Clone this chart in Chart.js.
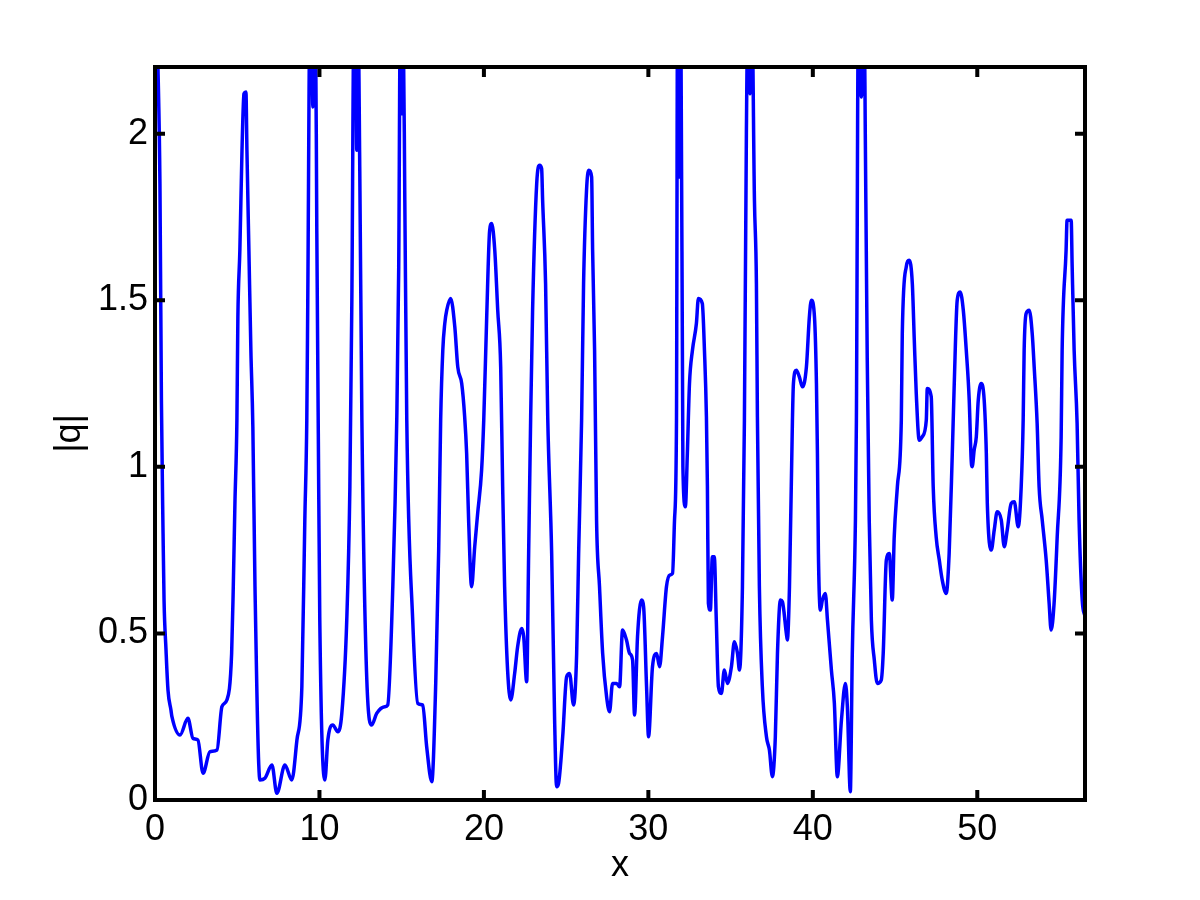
<!DOCTYPE html>
<html><head><meta charset="utf-8">
<script src="https://cdn.jsdelivr.net/npm/chart.js@4/dist/chart.umd.min.js"></script>
<style>html,body{margin:0;padding:0;background:#fff;} canvas{display:block;}</style>
</head><body>
<canvas id="c" width="1200" height="900"></canvas>
<script>
const xValues = [
0.00,0.18,0.30,0.39,0.49,0.55,0.67,0.79,0.97,1.03,1.52,2.00,2.31,2.61,2.92,3.34,3.77,4.07,4.37,4.66,
4.76,4.86,4.98,5.04,5.16,5.29,5.41,5.53,5.59,5.71,5.83,5.95,6.08,6.38,6.68,7.11,7.41,7.90,8.32,8.63,
8.93,9.11,9.23,9.29,9.42,9.54,9.60,9.66,9.75,9.84,9.93,10.02,10.33,10.51,10.81,11.12,11.36,11.66,11.85,11.97,
12.09,12.21,12.27,12.36,12.45,12.58,12.88,13.18,13.48,13.97,14.15,14.46,14.70,14.82,14.91,15.01,15.10,15.19,15.31,15.67,
15.98,16.28,16.52,16.83,17.07,17.25,17.37,17.50,17.62,17.74,17.98,18.23,18.41,18.65,18.83,18.95,19.07,19.25,19.44,19.62,
19.86,19.99,20.17,20.35,20.47,20.66,20.84,21.02,21.14,21.26,21.44,21.63,21.87,22.05,22.30,22.42,22.60,22.72,22.84,22.96,
23.21,23.39,23.51,23.57,23.75,23.88,24.12,24.30,24.42,24.54,24.79,25.03,25.21,25.45,25.64,25.76,25.94,26.06,26.24,26.37,
26.55,26.61,26.73,26.85,27.03,27.22,27.46,27.64,27.82,28.07,28.25,28.43,28.67,28.86,29.04,29.16,29.34,29.58,29.71,29.89,
30.01,30.25,30.50,30.68,30.86,31.10,31.29,31.47,31.59,31.71,31.77,31.89,31.98,32.10,32.25,32.37,32.50,32.68,32.92,33.04,
33.28,33.41,33.53,33.59,33.65,33.77,33.89,34.01,34.13,34.26,34.44,34.62,34.81,35.05,35.23,35.42,35.54,35.72,35.84,35.96,
36.05,36.18,36.30,36.45,36.57,36.63,36.75,36.93,37.18,37.36,37.54,37.72,37.85,38.03,38.15,38.39,38.45,38.58,38.76,38.82,
39.00,39.18,39.37,39.61,39.79,39.91,40.10,40.22,40.28,40.34,40.46,40.58,40.76,40.89,41.13,41.31,41.49,41.74,41.98,42.10,
42.28,42.40,42.59,42.65,42.77,42.95,43.13,43.19,43.31,43.43,43.56,43.74,43.92,44.16,44.28,44.47,44.65,44.83,44.95,45.14,
45.38,45.44,45.68,45.86,46.05,46.17,46.29,46.47,46.65,46.90,46.96,47.20,47.32,47.50,47.69,47.87,48.11,48.29,48.48,48.60,
48.78,48.96,49.15,49.33,49.51,49.63,49.69,49.81,49.94,50.06,50.24,50.42,50.55,50.61,50.85,51.03,51.21,51.46,51.64,51.82,
52.06,52.25,52.49,52.67,52.79,52.85,52.97,53.16,53.34,53.46,53.64,53.76,53.95,54.19,54.37,54.49,54.67,54.86,55.10,55.16,
55.40,55.46,55.71,55.77,55.89,56.07,56.19,56.38,56.55
];
const qValues = [
2.60,2.20,1.85,1.20,0.80,0.60,0.45,0.33,0.27,0.25,0.195,0.245,0.185,0.18,0.08,0.145,0.15,0.28,0.30,0.44,
0.64,0.89,1.14,1.45,1.65,1.95,2.12,2.125,1.95,1.65,1.35,1.12,0.64,0.06,0.065,0.105,0.02,0.105,0.06,0.18,
0.34,0.84,1.14,1.50,2.35,2.25,2.08,2.25,2.40,1.70,1.10,0.54,0.06,0.18,0.225,0.205,0.26,0.54,0.94,1.50,
2.30,2.30,1.95,2.30,1.90,1.14,0.36,0.225,0.26,0.28,0.285,0.64,1.14,1.60,2.30,2.06,2.30,1.80,1.14,0.54,
0.29,0.285,0.16,0.055,0.35,0.75,1.14,1.35,1.43,1.47,1.505,1.42,1.30,1.25,1.15,1.04,0.84,0.64,0.76,0.86,
0.99,1.14,1.45,1.71,1.73,1.65,1.47,1.30,0.94,0.64,0.39,0.30,0.38,0.46,0.515,0.49,0.355,0.74,1.14,1.47,
1.85,1.905,1.895,1.80,1.55,1.15,0.74,0.24,0.04,0.05,0.19,0.37,0.38,0.285,0.44,0.74,1.14,1.55,1.83,1.89,
1.87,1.65,1.35,0.84,0.64,0.44,0.31,0.265,0.35,0.35,0.34,0.51,0.48,0.44,0.42,0.255,0.49,0.60,0.58,0.34,
0.19,0.40,0.44,0.40,0.49,0.64,0.675,0.68,0.84,1.14,2.30,1.87,2.30,1.00,0.88,1.04,1.25,1.35,1.43,1.505,
1.49,1.35,1.15,0.94,0.59,0.57,0.73,0.73,0.54,0.34,0.32,0.39,0.35,0.40,0.475,0.44,0.39,0.64,1.14,2.00,
2.35,2.12,2.35,1.80,1.55,1.15,0.64,0.34,0.19,0.15,0.07,0.19,0.44,0.60,0.595,0.50,0.48,0.64,1.14,1.25,
1.29,1.27,1.24,1.30,1.45,1.50,1.45,1.25,1.04,0.74,0.57,0.60,0.62,0.54,0.39,0.29,0.07,0.24,0.35,0.28,
0.025,0.44,0.84,1.14,2.35,2.11,2.35,2.00,1.32,0.84,0.54,0.42,0.35,0.36,0.44,0.72,0.74,0.60,0.79,0.94,
1.14,1.40,1.60,1.62,1.55,1.38,1.22,1.08,1.09,1.14,1.235,1.21,0.94,0.79,0.72,0.66,0.62,0.74,1.04,1.25,
1.50,1.525,1.47,1.35,1.20,1.02,1.00,1.05,1.09,1.20,1.25,1.20,1.04,0.89,0.75,0.81,0.865,0.84,0.76,0.81,
0.89,0.895,0.82,0.94,1.14,1.35,1.46,1.47,1.40,1.30,1.13,0.94,0.84,0.72,0.59,0.51,0.59,0.79,1.09,1.35,
1.65,1.74,1.74,1.60,1.35,1.13,0.84,0.60,0.55
];
const xTicks = [0, 10, 20, 30, 40, 50];
const xTickLabels = ['0', '10', '20', '30', '40', '50'];
const yTicks = [0, 0.5, 1, 1.5, 2];
const yTickLabels = ['0', '0.5', '1', '1.5', '2'];
const xRange = [0, 56.55];
const yRange = [0, 2.2];
const xTitle = 'x';
const yTitle = '|q|';

const FONT = "'Liberation Sans', Arial, Helvetica, sans-serif";
const tickFont = { family: FONT, size: 36 };

const frame = {
  id: 'frame',
  afterDatasetsDraw(chart) {
    const { ctx, chartArea: a, scales: { x, y } } = chart;
    ctx.save();
    ctx.strokeStyle = '#000';
    ctx.lineWidth = 4;
    const L = 10;
    ctx.beginPath();
    xTicks.forEach(v => {
      const p = x.getPixelForValue(v);
      ctx.moveTo(p, a.bottom); ctx.lineTo(p, a.bottom - L);
      ctx.moveTo(p, a.top); ctx.lineTo(p, a.top + L);
    });
    yTicks.forEach(v => {
      const p = y.getPixelForValue(v);
      ctx.moveTo(a.left, p); ctx.lineTo(a.left + L, p);
      ctx.moveTo(a.right, p); ctx.lineTo(a.right - L, p);
    });
    ctx.stroke();
    ctx.strokeRect(a.left, a.top, a.right - a.left, a.bottom - a.top);
    ctx.restore();
  }
};

new Chart(document.getElementById('c'), {
  type: 'line',
  data: {
    datasets: [{
      data: xValues.map((v, i) => ({ x: v, y: qValues[i] })),
      borderColor: '#0000ff',
      borderWidth: 3.5,
      pointRadius: 0,
      cubicInterpolationMode: 'monotone',
      fill: false,
      clip: 0
    }]
  },
  options: {
    responsive: false,
    animation: false,
    devicePixelRatio: 1,
    layout: { padding: { top: 67, right: 115, bottom: 0, left: 0 } },
    plugins: { legend: { display: false }, tooltip: { enabled: false } },
    scales: {
      x: {
        type: 'linear',
        min: xRange[0], max: xRange[1],
        grid: { display: false, drawTicks: false, tickLength: 0 },
        border: { display: false },
        ticks: {
          padding: 8, font: tickFont, color: '#000', maxRotation: 0, autoSkip: false,
          callback: v => { const i = xTicks.indexOf(v); return i >= 0 ? xTickLabels[i] : ''; }
        },
        afterBuildTicks: s => { s.ticks = xTicks.map(v => ({ value: v })); },
        afterFit: s => { s.height = 100; },
        title: { display: true, text: xTitle, font: tickFont, color: '#000', padding: { top: 0, bottom: 12 } }
      },
      y: {
        type: 'linear',
        min: yRange[0], max: yRange[1],
        grid: { display: false, drawTicks: false, tickLength: 0 },
        border: { display: false },
        ticks: {
          padding: 7, font: tickFont, color: '#000', autoSkip: false,
          callback: v => { const i = yTicks.indexOf(v); return i >= 0 ? yTickLabels[i] : ''; }
        },
        afterBuildTicks: s => { s.ticks = yTicks.map(v => ({ value: v })); },
        afterFit: s => { s.width = 155; },
        title: { display: true, text: yTitle, font: tickFont, color: '#000', padding: { top: 48, bottom: 0 } }
      }
    }
  },
  plugins: [frame]
});
</script>
</body></html>
